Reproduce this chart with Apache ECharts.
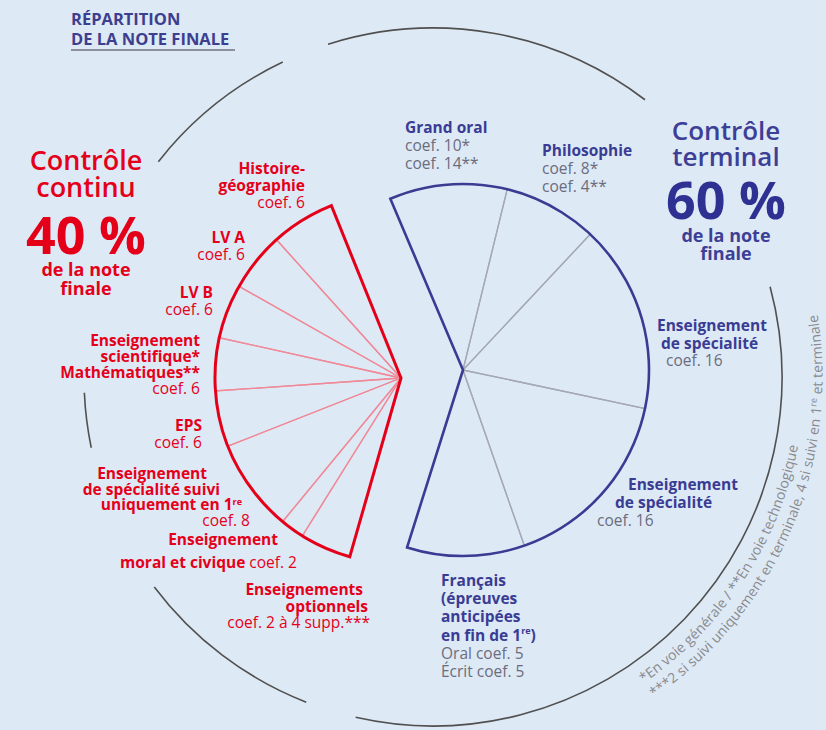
<!DOCTYPE html>
<html>
<head>
<meta charset="utf-8">
<title>Répartition de la note finale</title>
<script src="https://cdn.jsdelivr.net/npm/echarts@6/dist/echarts.min.js"></script>
<style>
html, body { margin: 0; padding: 0; background: #dde9f5; }
#main { width: 826px; height: 730px; }
</style>
</head>
<body>
<div id="main"></div>
<script>
// contrôle continu (40 %) : parts des secteurs mesurées sur le dessin, du haut vers le bas
var partsContinu = [20, 18.5, 17, 16.5, 17.5, 29, 7.5, 16];
// contrôle terminal (60 %) : coefficients, sens horaire depuis le haut
var coefsTerminal = [10, 8, 16, 16, 10];

// textes des étiquettes, une entrée par ligne
var etiquettesContinu = [
  ['Histoire-', 'géographie', 'coef. 6'],
  ['LV A', 'coef. 6'],
  ['LV B', 'coef. 6'],
  ['Enseignement', 'scientifique*', 'Mathématiques**', 'coef. 6'],
  ['EPS', 'coef. 6'],
  ['Enseignement', 'de spécialité suivi', 'uniquement en 1{sup|re}', 'coef. 8'],
  ['Enseignement', 'moral et civique {n|coef. 2}'],
  ['Enseignements', 'optionnels', 'coef. 2 à 4 supp.***']
];
var etiquettesTerminal = [
  ['Grand oral', 'coef. 10*', 'coef. 14**'],
  ['Philosophie', 'coef. 8*', 'coef. 4**'],
  ['Enseignement', 'de spécialité', 'coef. 16'],
  ['Enseignement', 'de spécialité', 'coef. 16'],
  ['Français', '(épreuves', 'anticipées', 'en fin de 1{sup|re})', 'Oral coef. 5', 'Écrit coef. 5']
];
var notes = [
  [['*En voie générale / **En voie technologique', 0]],
  [['***2 si suivi uniquement en terminale, 4 si suivi en 1', 0], ['re', 1], [' et terminale', 0]]
];

// mise en page (px, degrés)
var posContinu = [
  {x: 305, y: 168, lh: 17},
  {x: 245, y: 237, lh: 16.5},
  {x: 213, y: 292, lh: 16.5},
  {x: 200, y: 340, lh: 16},
  {x: 202, y: 425, lh: 16.5},
  {x: [207, 220, 242, 250], y: 473, lh: 15.7},
  {x: [278, 297], y: 539, lh: 23},
  {x: [363, 368, 370], y: 589, lh: 16.5}
];
var posTerminal = [
  {x: 405, y: 127, lh: 18},
  {x: 542, y: 150, lh: 18},
  {x: [657, 661, 666], y: 325, lh: 17.5},
  {x: [628, 615, 597], y: 484, lh: 18},
  {x: 441, y: 580, lh: 18.2}
];
var cercle = {cx: 433, cy: 377, r: 349};
var cercleArcs = [[52.6, 107.5], [115.5, 141.9], [182.6, 191.7], [217, 248.7], [257.2, 375]];

var ROUGE = '#e5001a', BLEU = '#3a3c94', GRIS = '#6c6c7e';
var POLICE = '"Open Sans", "Noto Sans", sans-serif';
var TAILLE = 15.5;
var rayon = 186;

function camembert(data, centre, debut, fin, sens, trait, epaisseur, z) {
  return {
    type: 'pie', center: centre, radius: [0, rayon], startAngle: debut, endAngle: fin, clockwise: sens,
    silent: true, z: z, animation: false, avoidLabelOverlap: false,
    label: {show: false}, labelLine: {show: false}, emphasis: {disabled: true},
    itemStyle: {color: 'rgba(0,0,0,0)', borderColor: trait, borderWidth: epaisseur, borderJoin: 'miter'},
    data: data
  };
}

function somme(a) { return a.reduce(function (s, v) { return s + v; }, 0); }
var rouge = {centre: [401, 378], debut: 112, fin: 254};
var bleu = {centre: [463, 370], debut: 113, fin: -107.5};

var series = [
  camembert(partsContinu, rouge.centre, rouge.debut, rouge.fin, false, '#f08a98', 1.3, 2),
  camembert([somme(partsContinu)], rouge.centre, rouge.debut, rouge.fin, false, ROUGE, 3, 3),
  camembert(coefsTerminal, bleu.centre, bleu.debut, bleu.fin, true, '#a6a8b8', 1.3, 2),
  camembert([somme(coefsTerminal)], bleu.centre, bleu.debut, bleu.fin, true, BLEU, 2.6, 3)
];

var graphics = [];

// grand cercle en arcs
cercleArcs.forEach(function (a) {
  graphics.push({
    type: 'arc', silent: true,
    shape: {cx: cercle.cx, cy: cercle.cy, r: cercle.r,
      startAngle: -a[1] * Math.PI / 180, endAngle: -a[0] * Math.PI / 180, clockwise: true},
    style: {stroke: '#505050', lineWidth: 1.6, fill: 'none'}
  });
});

function texte(t, x, y, opts) {
  var st = {
    text: t, x: x, y: y, fill: opts.fill, fontSize: opts.size, fontWeight: opts.weight,
    fontFamily: POLICE, align: opts.align, textAlign: opts.align, lineHeight: opts.lh,
    verticalAlign: 'middle', textVerticalAlign: 'middle', rich: opts.rich
  };
  graphics.push({type: 'text', silent: true, style: st});
}

function etiquettes(lignes, pos, align, couleurNom, couleurCoef) {
  lignes.forEach(function (bloc, i) {
    var p = pos[i];
    bloc.forEach(function (l, j) {
      var normal = /^(coef|Oral|Écrit)/.test(l);
      var x = Array.isArray(p.x) ? p.x[j] : p.x;
      texte(l, x, p.y + j * p.lh, {
        fill: normal ? couleurCoef : couleurNom, size: TAILLE, weight: normal ? 'normal' : 'bold',
        align: align, lh: Math.floor(p.lh),
        rich: {
          n: {fill: couleurCoef, fontWeight: 'normal', fontSize: TAILLE, fontFamily: POLICE, lineHeight: Math.floor(p.lh)},
          sup: {fill: couleurNom, fontWeight: 'bold', fontSize: 9, fontFamily: POLICE, verticalAlign: 'top', lineHeight: Math.floor(p.lh) - 3}
        }
      });
    });
  });
}
etiquettes(etiquettesContinu, posContinu, 'right', ROUGE, ROUGE);
etiquettes(etiquettesTerminal, posTerminal, 'left', BLEU, GRIS);

// titre
texte('RÉPARTITION\nDE LA NOTE FINALE', 71, 28, {fill: '#3c3e8f', size: 16.5, weight: 'bold', align: 'left', lh: 20});
graphics.push({type: 'line', silent: true, shape: {x1: 71, y1: 50, x2: 235, y2: 50}, style: {stroke: '#8d8fa0', lineWidth: 2}});

// blocs de synthèse
texte('Contrôle\ncontinu', 86, 172.5, {fill: ROUGE, size: 27, weight: 600, align: 'center', lh: 27});
texte('40 %', 86, 233, {fill: ROUGE, size: 52, weight: 'bold', align: 'center', lh: 44});
texte('de la note\nfinale', 86, 278, {fill: ROUGE, size: 18, weight: 'bold', align: 'center', lh: 19});

texte('Contrôle\nterminal', 726, 143, {fill: '#3d3f96', size: 26, weight: 600, align: 'center', lh: 26});
texte('60 %', 726, 198, {fill: '#2e3192', size: 52, weight: 'bold', align: 'center', lh: 42});
texte('de la note\nfinale', 726, 243.5, {fill: '#3d3f96', size: 18, weight: 'bold', align: 'center', lh: 18});

// notes en arc, à l'extérieur du cercle
var ctx = document.createElement('canvas').getContext('2d');
function texteCourbe(segments, r, debut, taille) {
  var a = debut * Math.PI / 180;
  segments.forEach(function (seg) {
    var sz = seg[1] ? taille * 0.65 : taille;
    var rr = seg[1] ? r - 3 : r;
    ctx.font = sz + 'px ' + POLICE;
    for (var i = 0; i < seg[0].length; i++) {
      var ch = seg[0][i];
      var w = ctx.measureText(ch).width;
      var am = a - (w / 2) / rr;
      if (ch !== ' ') {
        graphics.push({
          type: 'text', silent: true,
          x: cercle.cx + rr * Math.cos(am), y: cercle.cy + rr * Math.sin(am),
          rotation: Math.PI / 2 - am,
          style: {text: ch, fill: '#8a8a8e', fontSize: sz, fontFamily: POLICE,
            align: 'center', textAlign: 'center', verticalAlign: 'middle', textVerticalAlign: 'middle'}
        });
      }
      a -= w / rr;
    }
  });
}
texteCourbe(notes[0], 366, 55.5, 14);
texteCourbe(notes[1], 384, 55.5, 14);

var chart = echarts.init(document.getElementById('main'), null, {renderer: 'svg'});
chart.setOption({
  backgroundColor: '#dde9f5',
  animation: false,
  series: series,
  graphic: {elements: graphics}
});
</script>
</body>
</html>
